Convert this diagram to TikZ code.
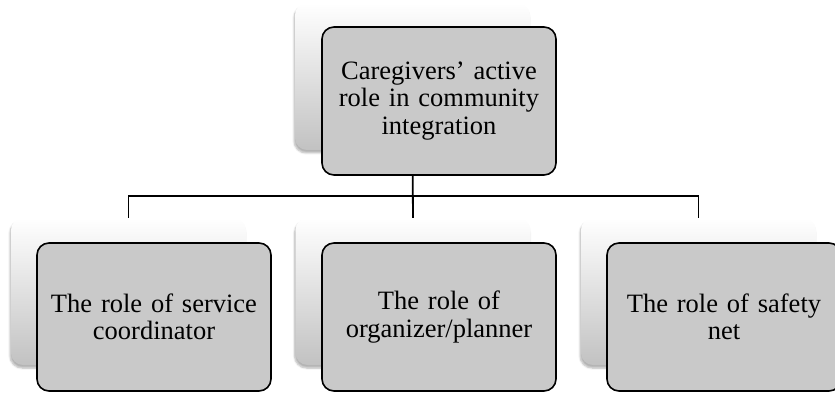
\documentclass[tikz,border=0pt]{standalone}
\usepackage{fontspec}
\setmainfont{Liberation Serif}
\usetikzlibrary{shadows.blur}
\begin{document}
\begin{tikzpicture}[x=1pt,y=1pt,
  backbox/.style={minimum width=235pt,minimum height=147pt,rounded corners=12pt,
    top color=white,bottom color=black!24,
    blur shadow={shadow xshift=-1pt,shadow yshift=-3pt,shadow blur steps=6,shadow opacity=30}},
  frontbox/.style={draw=black,line width=1.6pt,fill=black!21,rounded corners=12pt,
    minimum width=234pt,minimum height=148pt,text width=226pt,align=center,inner sep=0pt,
    font=\fontsize{26.5}{27.5}\selectfont},
  link/.style={draw=black,line width=1.8pt}]
\useasboundingbox (0,0) rectangle (835,394);
% back boxes
\node[backbox] (tb) at (412.5,317.5) {};
\node[backbox] (lb) at (128.5,102.5) {};
\node[backbox] (mb) at (413,102.5) {};
\node[backbox] (rb) at (698.5,102.5) {};
% connectors
\draw[link] (tb.south) -- ++(0,-46) -| (lb.north);
\draw[link] (tb.south) -- (mb.north);
\draw[link] (tb.south) -- ++(0,-46) -| (rb.north);
% front boxes
\node[frontbox] (tf) at (439,293) {Caregivers’ active\\role in community\\integration};
\node[frontbox] (lf) at (154,77) {The role of service\\coordinator};
\node[frontbox] (mf) at (439,77) {The role of\\organizer/planner};
\node[frontbox] (rf) at (724,77) {The role of safety\\net};
\end{tikzpicture}
\end{document}
